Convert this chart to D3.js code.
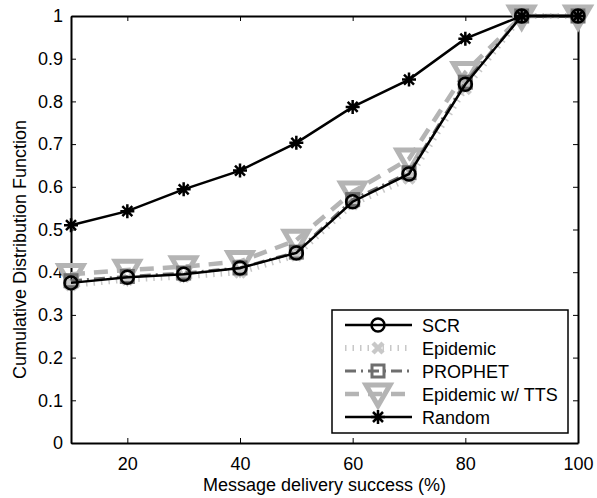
<!DOCTYPE html>
<html lang="en">
<head>
  <meta charset="UTF-8">
  <title>CDF of message delivery success</title>
  <script src="https://d3js.org/d3.v7.min.js"></script>
  <style>
    body { margin: 0; background: #fff; }
    text { font-family: "Liberation Sans", Arial, sans-serif; fill: #000; }
    .tick text { font-size: 18px; }
    .label { font-size: 18px; }
    .legend text { font-size: 18px; }
  </style>
</head>
<body>
  <svg width="597" height="498"></svg>
  <script>
    const xs = [10, 20, 30, 40, 50, 60, 70, 80, 90, 100];
    const scr = [0.375, 0.388, 0.395, 0.41, 0.445, 0.565, 0.63, 0.84, 1, 1];
    const epidemic = [0.37, 0.383, 0.39, 0.40, 0.44, 0.56, 0.62, 0.83, 1, 1];
    const prophet = [0.38, 0.39, 0.398, 0.41, 0.447, 0.57, 0.633, 0.845, 1, 1];
    const tts = [0.395, 0.405, 0.413, 0.425, 0.475, 0.588, 0.665, 0.868, 1, 1];
    const random = [0.51, 0.543, 0.594, 0.638, 0.703, 0.787, 0.851, 0.947, 1, 1];
    const xTicks = [20, 40, 60, 80, 100];
    const yTicks = [0, 0.1, 0.2, 0.3, 0.4, 0.5, 0.6, 0.7, 0.8, 0.9, 1];

    const svg = d3.select('svg');
    const m = { left: 71, right: 19, top: 16, bottom: 55 };
    const w = 597 - m.left - m.right;
    const h = 498 - m.top - m.bottom;

    const x = d3.scaleLinear().domain([10, 100]).range([0, w]);
    const y = d3.scaleLinear().domain([0, 1]).range([h, 0]);

    const g = svg.append('g').attr('transform', `translate(${m.left},${m.top})`);

    // axes, ticks pointing inwards like matlab
    const axes = [
      [d3.axisBottom(x).tickValues(xTicks).tickSizeInner(-5).tickSizeOuter(0).tickPadding(14), `translate(0,${h})`],
      [d3.axisTop(x).tickValues(xTicks).tickSizeInner(-5).tickSizeOuter(0).tickFormat(''), 'translate(0,0)'],
      [d3.axisLeft(y).tickValues(yTicks).tickSizeInner(-5).tickSizeOuter(0).tickPadding(8).tickFormat(d3.format('')), 'translate(0,0)'],
      [d3.axisRight(y).tickValues(yTicks).tickSizeInner(-5).tickSizeOuter(0).tickFormat(''), `translate(${w},0)`]
    ];
    axes.forEach(([ax, tr]) => {
      const a = g.append('g').attr('transform', tr).call(ax);
      a.select('.domain').attr('stroke', '#000').attr('stroke-width', 2);
      a.selectAll('.tick line').attr('stroke', '#000');
    });

    g.append('text')
      .attr('class', 'label')
      .attr('x', w / 2).attr('y', h + 48)
      .attr('text-anchor', 'middle')
      .text('Message delivery success (%)');

    g.append('text')
      .attr('class', 'label')
      .attr('transform', `translate(-45,${h / 2 + 20}) rotate(-90)`)
      .attr('text-anchor', 'middle')
      .text('Cumulative Distribution Function');

    const tri = d3.symbol().type(d3.symbolTriangle).size(250);
    const markers = {
      circle: sel => sel.append('circle').attr('r', 6.5).attr('fill', 'none'),
      cross: sel => sel.append('path').attr('d', 'M-5,-5L5,5M-5,5L5,-5').attr('fill', 'none'),
      square: sel => sel.append('rect').attr('x', -6).attr('y', -6).attr('width', 12).attr('height', 12).attr('fill', 'none'),
      tri: sel => sel.append('path').attr('d', tri).attr('transform', 'translate(0,-2) rotate(180)').attr('fill', 'none'),
      star: sel => sel.append('path').attr('d', 'M-7,0L7,0M0,-7L0,7M-5,-5L5,5M-5,5L5,-5').attr('fill', 'none')
    };

    const series = [
      { name: 'Epidemic w/ TTS', vals: tts, color: '#b4b4b4', width: 4.5, dash: '14,9', marker: 'tri', mw: 5 },
      { name: 'Epidemic', vals: epidemic, color: '#c8c8c8', width: 6, dash: '1.5,6', marker: 'cross', mw: 4.5 },
      { name: 'PROPHET', vals: prophet, color: '#6e6e6e', width: 3, dash: '11,5,2,5', marker: 'square', mw: 3 },
      { name: 'SCR', vals: scr, color: '#000', width: 2.5, dash: null, marker: 'circle', mw: 2.5 },
      { name: 'Random', vals: random, color: '#000', width: 2.5, dash: null, marker: 'star', mw: 2.5 }
    ];

    const line = d3.line().x((d, i) => x(xs[i])).y(d => y(d));

    series.forEach(s => {
      g.append('path')
        .datum(s.vals)
        .attr('d', line)
        .attr('fill', 'none')
        .attr('stroke', s.color)
        .attr('stroke-width', s.width)
        .attr('stroke-dasharray', s.dash);
      const pts = g.selectAll(null)
        .data(s.vals)
        .enter()
        .append('g')
        .attr('transform', (d, i) => `translate(${x(xs[i])},${y(d)})`)
        .attr('stroke', s.color)
        .attr('stroke-width', s.mw);
      markers[s.marker](pts);
    });

    // legend in matlab order
    const order = ['SCR', 'Epidemic', 'PROPHET', 'Epidemic w/ TTS', 'Random'];
    const lg = g.append('g').attr('class', 'legend').attr('transform', `translate(${332 - m.left},${310 - m.top})`);
    lg.append('rect').attr('width', 236).attr('height', 123).attr('fill', '#fff').attr('stroke', '#000').attr('stroke-width', 1.5);
    order.forEach((n, i) => {
      const s = series.find(d => d.name === n);
      const row = lg.append('g').attr('transform', `translate(0,${15 + i * 23})`);
      row.append('line').attr('x1', 13).attr('x2', 80)
        .attr('stroke', s.color).attr('stroke-width', s.width).attr('stroke-dasharray', s.dash);
      const mk = row.append('g').attr('transform', 'translate(46,0)').attr('stroke', s.color).attr('stroke-width', s.mw);
      markers[s.marker](mk);
      row.append('text').attr('x', 90).attr('y', 7).text(n);
    });
  </script>
</body>
</html>
